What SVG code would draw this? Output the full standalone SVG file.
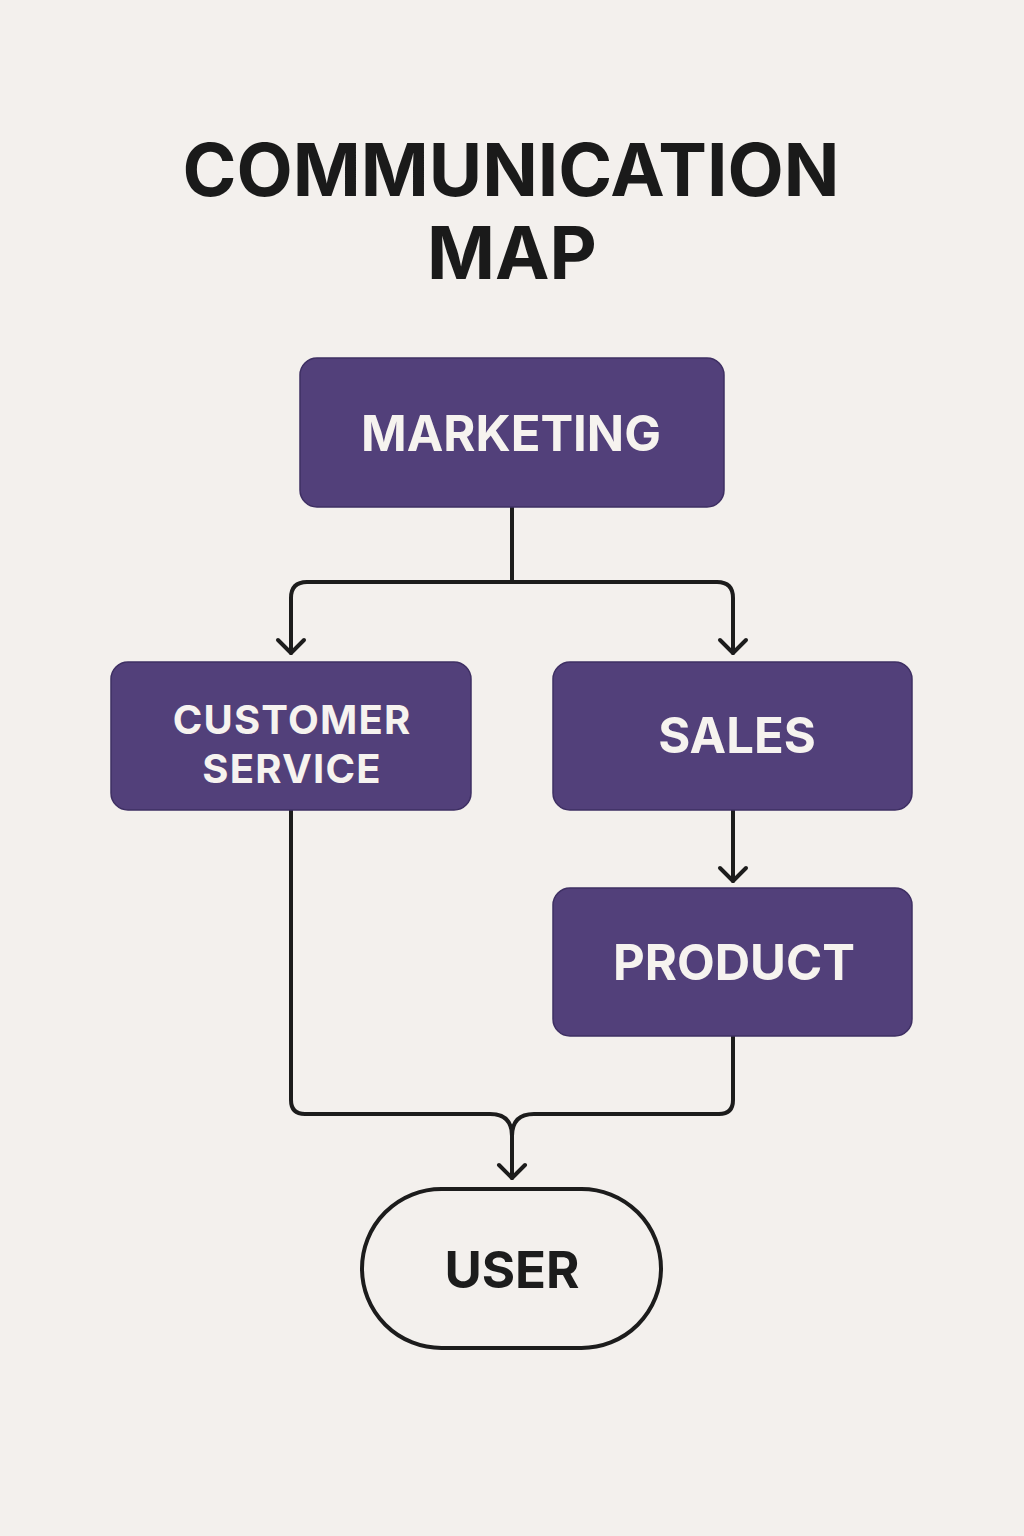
<svg xmlns="http://www.w3.org/2000/svg" width="1024" height="1536" viewBox="0 0 1024 1536">
<style>
.bg{fill:#f3f0ed}
.box{fill:#52407a;stroke:#3e2f63;stroke-width:1.5}
.lbl{font-family:Inter,"Liberation Sans",sans-serif;font-weight:700;fill:#f6f3ef;text-anchor:middle}
.title{font-family:Inter,"Liberation Sans",sans-serif;font-weight:700;fill:#1a1a1a;text-anchor:middle;font-size:73px}
.ln{fill:none;stroke:#1c1c1c;stroke-width:4;stroke-linecap:round;stroke-linejoin:round}
</style>
<rect class="bg" x="0" y="0" width="1024" height="1536"/>
<g id="title">
<text class="title" x="511" y="196">COMMUNICATION</text>
<text class="title" x="512" y="279">MAP</text>
</g>
<g id="connectors">
<path class="ln" d="M512 507 V582"/>
<path class="ln" d="M733 653 V598 Q733 582 717 582 H307 Q291 582 291 598 V653"/>
<path class="ln" d="M278 640 L291 653 L304 640"/>
<path class="ln" d="M720 640 L733 653 L746 640"/>
<path class="ln" d="M733 810 V881"/>
<path class="ln" d="M720 868 L733 881 L746 868"/>
<path class="ln" d="M291 810 V1100 Q291 1114 305 1114 H490 Q512 1114 512 1136 Q512 1114 534 1114 H719 Q733 1114 733 1100 V1036"/>
<path class="ln" d="M512 1136 V1178"/>
<path class="ln" d="M499 1165 L512 1178 L525 1165"/>
</g>
<g id="marketing">
<rect class="box" x="300" y="358" width="424" height="149" rx="17"/>
<text class="lbl" x="511" y="451" font-size="49">MARKETING</text>
</g>
<g id="customer-service">
<rect class="box" x="111" y="662" width="360" height="148" rx="17"/>
<text class="lbl" x="292" y="734" font-size="40" letter-spacing="1.2">CUSTOMER</text>
<text class="lbl" x="292" y="783" font-size="40" letter-spacing="1.2">SERVICE</text>
</g>
<g id="sales">
<rect class="box" x="553" y="662" width="359" height="148" rx="17"/>
<text class="lbl" x="737" y="753" font-size="49">SALES</text>
</g>
<g id="product">
<rect class="box" x="553" y="888" width="359" height="148" rx="17"/>
<text class="lbl" x="734" y="980" font-size="49">PRODUCT</text>
</g>
<g id="user">
<rect x="362" y="1189" width="299" height="159" rx="79.5" fill="none" stroke="#1c1c1c" stroke-width="4"/>
<text x="512" y="1288" font-family="Inter,'Liberation Sans',sans-serif" font-weight="700" font-size="51" fill="#1c1c1c" text-anchor="middle">USER</text>
</g>
</svg>
